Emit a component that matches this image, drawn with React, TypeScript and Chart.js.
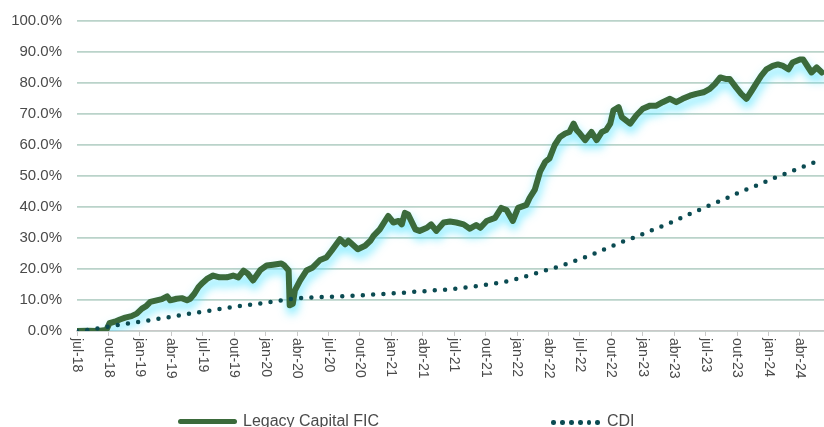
import React, { useEffect, useRef } from 'react';
import { Chart, registerables } from 'chart.js';

Chart.register(...registerables);

const FONT = "'Liberation Sans', Arial, sans-serif";

const tickLabels = [
  'jul-18', 'out-18', 'jan-19', 'abr-19', 'jul-19', 'out-19', 'jan-20', 'abr-20',
  'jul-20', 'out-20', 'jan-21', 'abr-21', 'jul-21', 'out-21', 'jan-22', 'abr-22',
  'jul-22', 'out-22', 'jan-23', 'abr-23', 'jul-23', 'out-23', 'jan-24', 'abr-24',
];

// months elapsed since jul-18
const fundMonths = [
  0, 1, 2, 2.8, 3.1, 3.6, 4.1, 4.6, 5.2, 5.7, 6.2, 6.6, 7.0, 7.6, 8.1, 8.6, 8.9, 9.5, 10.0, 10.5,
  10.8, 11.2, 11.6, 12.0, 12.4, 13.0, 13.6, 14.3, 14.9, 15.4, 15.9, 16.3, 16.8, 17.5, 18.1, 18.7,
  19.5, 19.8, 20.2, 20.3, 20.6, 20.8, 21.3, 21.9, 22.5, 23.2, 23.8, 24.3, 25.1, 25.6, 25.9, 26.8,
  27.5, 28.0, 28.3, 28.9, 29.7, 30.2, 30.7, 31.0, 31.3, 31.6, 32.3, 32.7, 33.4, 33.8, 34.3, 35.0,
  35.6, 36.2, 36.9, 37.5, 38.1, 38.5, 39.1, 39.9, 40.5, 41.0, 41.6, 42.1, 42.9, 43.2, 43.7, 44.2,
  44.7, 45.1, 45.6, 46.1, 46.6, 47.0, 47.4, 47.7, 48.0, 48.5, 49.1, 49.6, 50.1, 50.5, 50.9, 51.2,
  51.7, 52.0, 52.8, 53.4, 54.0, 54.7, 55.3, 55.9, 56.6, 57.2, 57.8, 58.5, 59.1, 59.8, 60.4, 60.9,
  61.4, 61.9, 62.3, 62.9, 63.4, 63.9, 64.4, 64.9, 65.3, 65.8, 66.4, 66.9, 67.4, 67.9, 68.3, 69.0,
  69.3, 69.8, 70.1, 70.6, 71.1,
];

const fundValues = [
  0, 0.1, 0, 0.3, 2.5, 3.0, 3.7, 4.3, 4.8, 5.6, 7.2, 8.0, 9.4, 9.9, 10.3, 11.2, 9.9, 10.4, 10.6, 9.9,
  10.4, 12.0, 14.2, 15.6, 16.8, 17.9, 17.3, 17.3, 17.9, 17.3, 19.5, 18.5, 16.3, 19.7, 21.1, 21.4,
  21.8, 21.1, 19.5, 8.3, 8.8, 13.1, 16.3, 19.5, 20.5, 22.9, 23.7, 25.9, 29.6, 28.0, 29.1, 26.4,
  27.5, 29.1, 30.7, 32.8, 37.1, 35.0, 35.5, 34.4, 38.1, 37.6, 32.8, 32.3, 33.3, 34.4, 32.3, 35.0,
  35.3, 35.0, 34.4, 33.0, 34.2, 33.3, 35.5, 36.5, 39.7, 39.0, 35.5, 39.7, 40.7, 42.9, 45.6, 51.4,
  54.6, 55.7, 60.0, 62.6, 63.7, 64.2, 66.9, 64.8, 63.7, 61.6, 64.2, 61.6, 64.2, 64.8, 66.9, 71.2,
  72.2, 69.0, 66.9, 69.6, 71.7, 72.7, 72.7, 73.8, 74.9, 73.8, 74.9, 75.9, 76.5, 77.0, 78.1, 79.7,
  81.8, 81.3, 81.3, 78.6, 76.5, 74.9, 77.5, 80.2, 82.3, 84.4, 85.5, 86.0, 85.5, 84.4, 86.6, 87.6,
  87.6, 85.0, 83.4, 85.0, 83.4,
];

// monthly, starting jul-18
const cdiValues = [
  0, 0.3, 0.85, 1.4, 2.0, 2.5, 3.0, 3.5, 4.1, 4.6, 5.2, 5.7, 6.2, 6.7, 7.3, 7.8, 8.3, 8.7, 9.1, 9.6,
  10.1, 10.6, 10.8, 10.9, 11.0, 11.2, 11.3, 11.5, 11.7, 11.9, 12.1, 12.3, 12.6, 12.8, 13.1, 13.3,
  13.6, 14.0, 14.4, 14.9, 15.4, 16.0, 16.8, 17.8, 18.8, 19.8, 20.8, 22.0, 23.2, 24.4, 25.9, 27.3,
  28.7, 29.9, 31.3, 32.7, 34.0, 35.4, 37.0, 38.5, 40.0, 41.4, 42.8, 44.4, 45.8, 47.1, 48.6, 50.0,
  51.2, 52.6, 53.8, 55.4,
];

const seriesNames = ['Legacy Capital FIC', 'CDI'];
const FUND_COLOR = '#3b6a3b';
const CDI_COLOR = '#0b4b52';
const TEXT_COLOR = '#4a4a4a';

const glowPlugin = {
  id: 'glow',
  beforeDatasetDraw(chart: any, args: any) {
    if (args.index !== 0) return;
    const ctx = chart.ctx;
    ctx.save();
    ctx.shadowColor = 'rgba(70, 225, 255, 0.75)';
    ctx.shadowBlur = 10;
    ctx.shadowOffsetX = 1;
    ctx.shadowOffsetY = 6;
  },
  afterDatasetDraw(chart: any, args: any) {
    if (args.index !== 0) return;
    chart.ctx.restore();
  },
};

const xLabelPlugin = {
  id: 'xLabels',
  afterDraw(chart: any) {
    const scale = chart.scales.x;
    const ctx = chart.ctx;
    ctx.save();
    ctx.fillStyle = TEXT_COLOR;
    ctx.font = `14px ${FONT}`;
    ctx.textAlign = 'left';
    ctx.textBaseline = 'middle';
    scale.ticks.forEach((t: any, i: number) => {
      const px = scale.getPixelForValue(t.value);
      ctx.save();
      ctx.translate(px, chart.chartArea.bottom + 7);
      ctx.rotate(Math.PI / 2);
      ctx.fillText(tickLabels[i], 0, 0);
      ctx.restore();
    });
    ctx.restore();
  },
};

export default function App() {
  const ref = useRef<HTMLCanvasElement>(null);

  useEffect(() => {
    if (!ref.current) return;
    const chart = new Chart(ref.current, {
      type: 'line',
      data: {
        datasets: [
          {
            label: seriesNames[0],
            data: fundMonths.map((m, i) => ({ x: m, y: fundValues[i] })),
            borderColor: FUND_COLOR,
            borderWidth: 6,
            pointRadius: 0,
            tension: 0,
            borderJoinStyle: 'round',
            borderCapStyle: 'round',
            order: 1,
          },
          {
            label: seriesNames[1],
            data: cdiValues.map((v, i) => ({ x: i, y: v })),
            borderColor: CDI_COLOR,
            borderWidth: 4.5,
            borderDash: [0, 10.3],
            borderCapStyle: 'round',
            pointRadius: 0,
            tension: 0,
            order: 0,
          },
        ],
      } as any,
      options: {
        animation: false,
        responsive: false,
        maintainAspectRatio: false,
        layout: { padding: { top: 13, left: 0, right: 0, bottom: 0 } },
        plugins: { legend: { display: false }, tooltip: { enabled: false } },
        scales: {
          x: {
            type: 'linear',
            min: 0,
            max: 71.3,
            afterBuildTicks: (s: any) => {
              s.ticks = tickLabels.map((_, i) => ({ value: i * 3 }));
            },
            afterFit: (s: any) => {
              s.height = 96;
            },
            ticks: { display: false },
            grid: { drawOnChartArea: false, drawTicks: true, tickLength: 5, color: '#c9c9c9', lineWidth: 1 },
            border: { color: '#c9c9c9', width: 1.5 },
          },
          y: {
            min: 0,
            max: 100,
            afterFit: (s: any) => {
              s.width = 77;
            },
            ticks: {
              stepSize: 10,
              padding: 15,
              color: TEXT_COLOR,
              font: { family: FONT, size: 15 },
              callback: (v: any) => Number(v).toFixed(1) + '%',
            },
            grid: { color: '#bad3ca', lineWidth: 1.8, drawTicks: false },
            border: { display: false },
          },
        },
      } as any,
      plugins: [glowPlugin, xLabelPlugin],
    });
    return () => chart.destroy();
  }, []);

  const dots = [553, 562, 571, 580, 588.5, 597];

  return (
    <div style={{ position: 'fixed', left: 0, top: 0, width: 824, height: 427, background: '#fff', fontFamily: FONT, overflow: 'hidden' }}>
      <canvas ref={ref} width={824} height={430} style={{ position: 'absolute', left: 0, top: -3, width: 824, height: 430 }} />
      <div style={{ position: 'absolute', left: 178, top: 419, width: 59, height: 5, borderRadius: 3, background: FUND_COLOR }} />
      <div style={{ position: 'absolute', left: 243, top: 411, fontSize: 16, lineHeight: '20px', color: TEXT_COLOR, whiteSpace: 'nowrap' }}>
        {seriesNames[0]}
      </div>
      {dots.map((x) => (
        <div key={x} style={{ position: 'absolute', left: x - 2, top: 420, width: 4.5, height: 4.5, borderRadius: 2.25, background: CDI_COLOR }} />
      ))}
      <div style={{ position: 'absolute', left: 607, top: 411, fontSize: 16, lineHeight: '20px', color: TEXT_COLOR, whiteSpace: 'nowrap' }}>
        {seriesNames[1]}
      </div>
    </div>
  );
}
